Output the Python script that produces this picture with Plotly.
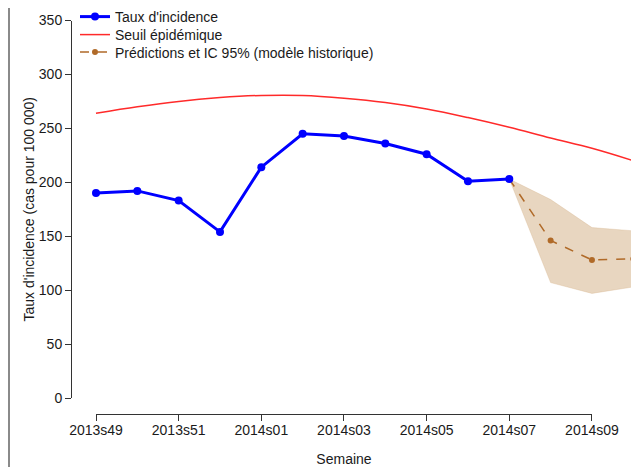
import plotly.graph_objects as go

weeks = ["2013s49", "2013s50", "2013s51", "2013s52", "2014s01", "2014s02", "2014s03",
         "2014s04", "2014s05", "2014s06", "2014s07", "2014s08", "2014s09", "2014s10"]
incidence = [190, 192, 183, 154, 214, 245, 243, 236, 226, 201, 203]
seuil = [264, 270, 275, 278.5, 280.5, 280.5, 278, 274, 268, 260, 251, 241, 231.5, 220]
pred_weeks = ["2014s07", "2014s08", "2014s09", "2014s10"]
pred = [203, 146, 128, 129]
ic_upper = [203, 184, 158, 155]
ic_lower = [203, 107, 97, 103]
tick_weeks = ["2013s49", "2013s51", "2014s01", "2014s03", "2014s05", "2014s07", "2014s09"]
y_ticks = [0, 50, 100, 150, 200, 250, 300, 350]

# the page body adds an 8px offset, so the figure is 8px smaller
OFF = 8
W, H = 639 - OFF, 467 - OFF
T, B = 12, 0
FONT = "Liberation Sans, Arial, sans-serif"

px_per_week = 41.33
x0_px = 96.0 - OFF
ax_left_px = 72.0 - OFF
y0_px, y350_px = 398.0 - OFF, 20.5 - OFF
xaxis_line_px = 414.0 - OFF
legend_rows_px = [17 - OFF, 35 - OFF, 52.5 - OFF]
legend_left_px = 75 - OFF


def fy(px):
    """figure pixel (from top) -> paper fraction"""
    return (H - B - px) / (H - T - B)


fig = go.Figure()

fig.add_trace(go.Scatter(
    x=pred_weeks + pred_weeks[::-1],
    y=ic_upper + ic_lower[::-1],
    fill="toself", fillcolor="rgba(214,180,140,0.55)",
    line=dict(color="rgba(214,180,140,0.7)", width=0.5),
    mode="lines", showlegend=False, hoverinfo="skip"))

fig.add_trace(go.Scatter(
    x=pred_weeks, y=pred, mode="lines+markers",
    name="Prédictions et IC 95% (modèle historique)", legend="legend3",
    line=dict(color="#B06A28", width=1.5, dash="dash"),
    marker=dict(color="#B06A28", size=6)))

fig.add_trace(go.Scatter(
    x=weeks, y=seuil, mode="lines", name="Seuil épidémique", legend="legend2",
    line=dict(color="#FF2A2A", width=1.5, shape="spline")))

fig.add_trace(go.Scatter(
    x=weeks[:len(incidence)], y=incidence, mode="lines+markers",
    name="Taux d'incidence", legend="legend",
    line=dict(color="#0000FF", width=3), marker=dict(color="#0000FF", size=8)))

fig.add_trace(go.Scatter(
    x=weeks[:13], y=[None] * 13, xaxis="x2", yaxis="y",
    mode="markers", showlegend=False, hoverinfo="skip"))

xr0 = (ax_left_px - x0_px) / px_per_week
xr1 = (W - x0_px) / px_per_week

leg = lambda i: dict(x=legend_left_px / W, y=fy(legend_rows_px[i]),
                     xanchor="left", yanchor="middle",
                     bgcolor="rgba(0,0,0,0)", font=dict(size=14, family=FONT,
                                                        color="#1a1a1a"),
                     itemwidth=30)

fig.update_layout(
    width=W, height=H,
    margin=dict(l=0, r=0, t=T, b=B, autoexpand=False),
    paper_bgcolor="white", plot_bgcolor="rgba(0,0,0,0)",
    font=dict(family=FONT, size=14, color="#1a1a1a"),
    xaxis=dict(
        domain=[ax_left_px / W, 1.0], type="category", categoryarray=weeks,
        categoryorder="array", range=[xr0, xr1],
        showline=False, showticklabels=False, ticks="", showgrid=False,
        zeroline=False, automargin=False),
    xaxis2=dict(
        domain=[x0_px / W, (x0_px + 12 * px_per_week) / W],
        type="category", categoryarray=weeks[:13], categoryorder="array",
        range=[0, 12], anchor="free", position=fy(xaxis_line_px),
        showline=True, linecolor="#333333", linewidth=1,
        ticks="outside", ticklen=6, tickcolor="#333333",
        tickmode="array", tickvals=tick_weeks, ticktext=tick_weeks,
        ticklabelstandoff=-3,
        showgrid=False, zeroline=False, automargin=False,
        title=dict(text="Semaine", standoff=17, font=dict(size=14))),
    yaxis=dict(
        domain=[fy(y0_px), min(1.0, fy(y350_px))], range=[0, 350],
        anchor="x", showline=True, linecolor="#333333", linewidth=1,
        ticks="outside", ticklen=6, tickcolor="#333333",
        tickmode="array", tickvals=y_ticks,
        showgrid=False, zeroline=False, automargin=False,
        title=dict(text="Taux d'incidence (cas pour 100 000)", standoff=0,
                   font=dict(size=14))),
    legend=leg(0), legend2=leg(1), legend3=leg(2),
    showlegend=True,
    shapes=[dict(type="line", xref="paper", yref="paper",
                 x0=1 / W, x1=1 / W, y0=fy(H), y1=fy(0),
                 line=dict(color="#8a8a8a", width=2))],
)

fig.write_html("out.html")
